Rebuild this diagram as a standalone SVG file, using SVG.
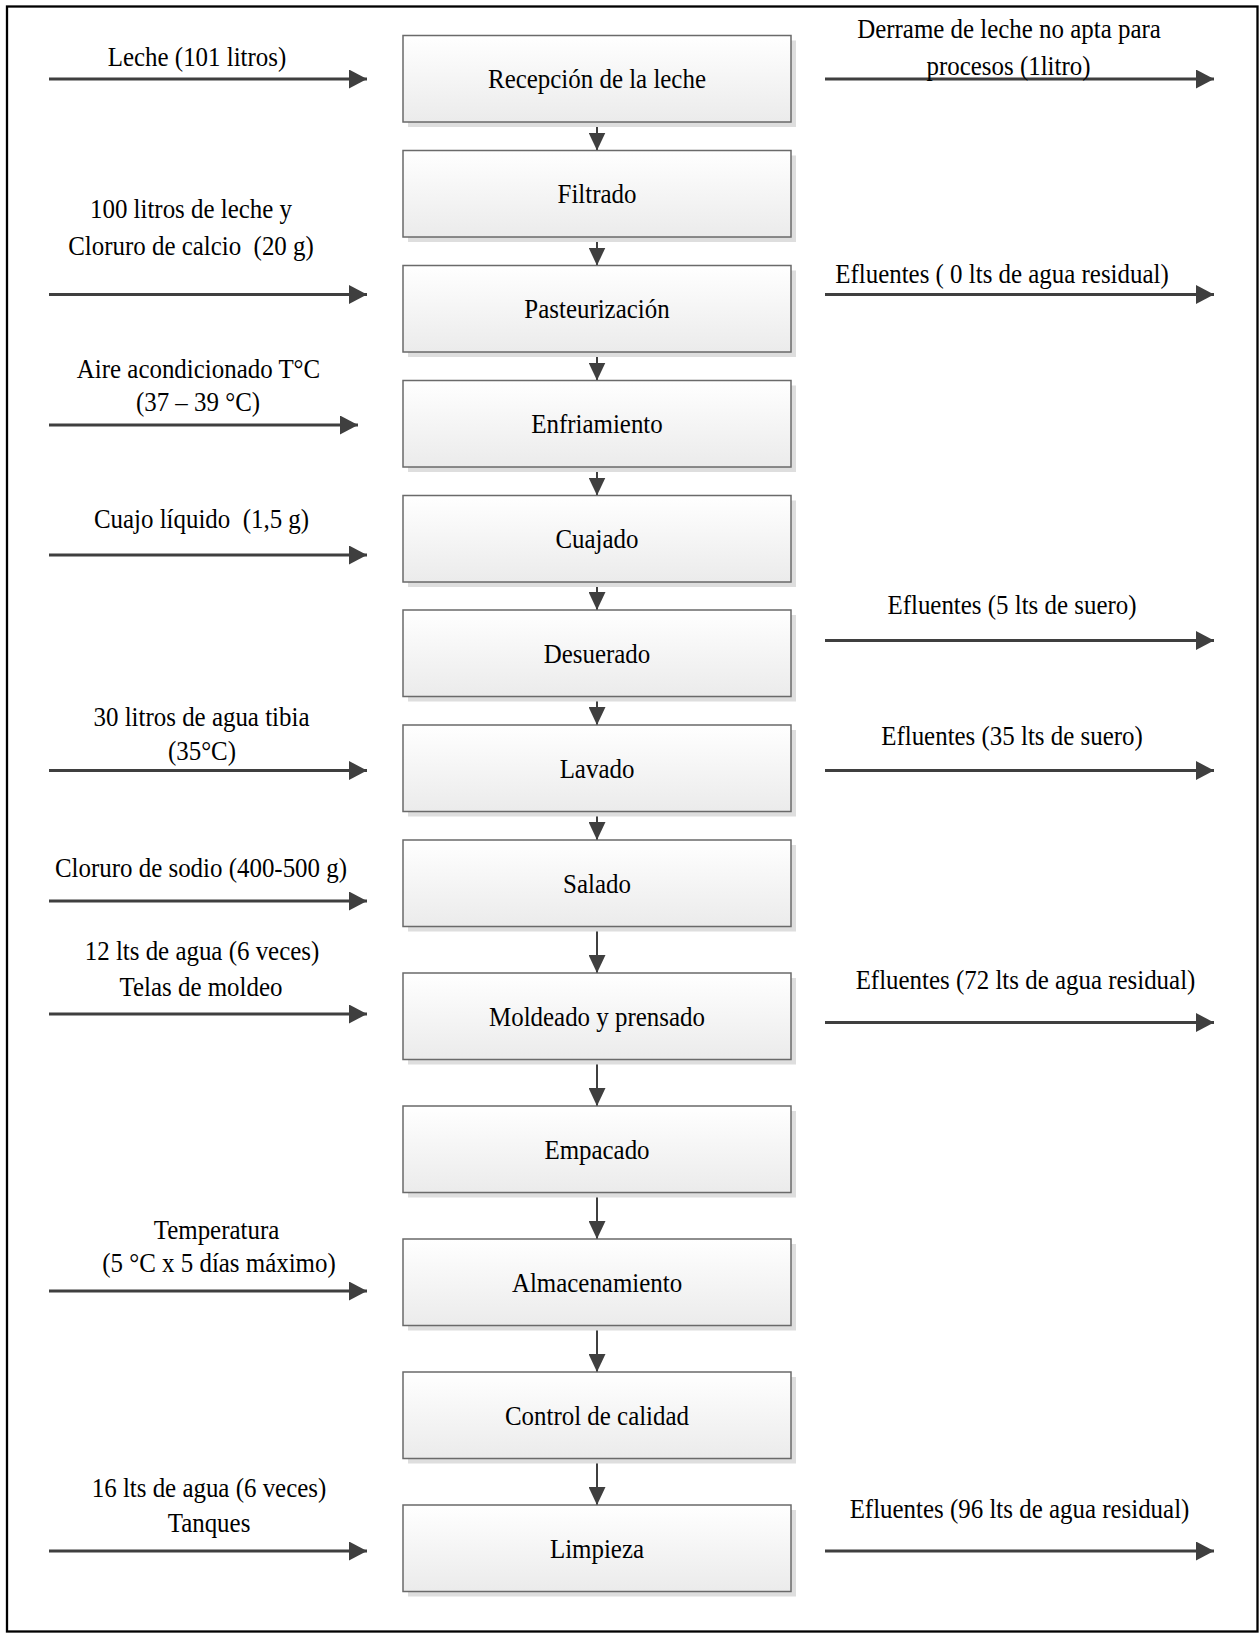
<svg xmlns="http://www.w3.org/2000/svg" width="1260" height="1633" viewBox="0 0 1260 1633">
<defs>
<linearGradient id="bg" x1="0" y1="0" x2="0" y2="1">
<stop offset="0" stop-color="#ffffff"/>
<stop offset="1" stop-color="#ebebeb"/>
</linearGradient>
<marker id="ah" markerWidth="18" markerHeight="19" refX="18" refY="9.5" orient="auto" markerUnits="userSpaceOnUse">
<path d="M0,0 L18,9.5 L0,19 z" fill="#3f3f3f"/>
</marker>
<marker id="av" markerWidth="18" markerHeight="17" refX="18" refY="8.5" orient="auto" markerUnits="userSpaceOnUse">
<path d="M0,0 L18,8.5 L0,17 z" fill="#3f3f3f"/>
</marker>
<style>
.sh{fill:#dedede}
.bx{fill:url(#bg);stroke:#6a6a6a;stroke-width:1.5}
.t{font-family:"Liberation Serif","Times New Roman",serif;font-size:28px;fill:#000;text-anchor:middle;white-space:pre}
.ha{stroke:#3f3f3f;stroke-width:3;fill:none;marker-end:url(#ah)}
.va{stroke:#3f3f3f;stroke-width:2;fill:none;marker-end:url(#av)}
</style>
</defs>
<rect x="0" y="0" width="1260" height="1633" fill="#ffffff"/>
<rect x="7" y="6.5" width="1250.5" height="1625" fill="none" stroke="#000" stroke-width="2.3"/>

<g id="connectors">
<line class="va" x1="597" y1="122" x2="597" y2="150.5"/>
<line class="va" x1="597" y1="237" x2="597" y2="265.5"/>
<line class="va" x1="597" y1="352" x2="597" y2="380.5"/>
<line class="va" x1="597" y1="467" x2="597" y2="495.5"/>
<line class="va" x1="597" y1="582" x2="597" y2="610"/>
<line class="va" x1="597" y1="696.5" x2="597" y2="725"/>
<line class="va" x1="597" y1="811.5" x2="597" y2="840"/>
<line class="va" x1="597" y1="926.5" x2="597" y2="973"/>
<line class="va" x1="597" y1="1059.5" x2="597" y2="1106"/>
<line class="va" x1="597" y1="1192.5" x2="597" y2="1239"/>
<line class="va" x1="597" y1="1325.5" x2="597" y2="1372"/>
<line class="va" x1="597" y1="1458.5" x2="597" y2="1505"/>

<line class="ha" x1="49" y1="79" x2="367" y2="79"/>
<line class="ha" x1="49" y1="294.5" x2="367" y2="294.5"/>
<line class="ha" x1="49" y1="425" x2="358" y2="425"/>
<line class="ha" x1="49" y1="555" x2="367" y2="555"/>
<line class="ha" x1="49" y1="770.5" x2="367" y2="770.5"/>
<line class="ha" x1="49" y1="901" x2="367" y2="901"/>
<line class="ha" x1="49" y1="1014" x2="367" y2="1014"/>
<line class="ha" x1="49" y1="1291" x2="367" y2="1291"/>
<line class="ha" x1="49" y1="1551" x2="367" y2="1551"/>

<line class="ha" x1="825" y1="79" x2="1214" y2="79"/>
<line class="ha" x1="825" y1="294.5" x2="1214" y2="294.5"/>
<line class="ha" x1="825" y1="640.5" x2="1214" y2="640.5"/>
<line class="ha" x1="825" y1="770.5" x2="1214" y2="770.5"/>
<line class="ha" x1="825" y1="1022.5" x2="1214" y2="1022.5"/>
<line class="ha" x1="825" y1="1551" x2="1214" y2="1551"/>
</g>

<g id="n1"><rect class="sh" x="408" y="40.5" width="388" height="86.5"/><rect class="bx" x="403" y="35.5" width="388" height="86.5"/><text class="t" transform="translate(597,88) scale(0.89,1)">Recepción de la leche</text></g>
<g id="n2"><rect class="sh" x="408" y="155.5" width="388" height="86.5"/><rect class="bx" x="403" y="150.5" width="388" height="86.5"/><text class="t" transform="translate(597,203) scale(0.89,1)">Filtrado</text></g>
<g id="n3"><rect class="sh" x="408" y="270.5" width="388" height="86.5"/><rect class="bx" x="403" y="265.5" width="388" height="86.5"/><text class="t" transform="translate(597,318) scale(0.89,1)">Pasteurización</text></g>
<g id="n4"><rect class="sh" x="408" y="385.5" width="388" height="86.5"/><rect class="bx" x="403" y="380.5" width="388" height="86.5"/><text class="t" transform="translate(597,433) scale(0.89,1)">Enfriamiento</text></g>
<g id="n5"><rect class="sh" x="408" y="500.5" width="388" height="86.5"/><rect class="bx" x="403" y="495.5" width="388" height="86.5"/><text class="t" transform="translate(597,548) scale(0.89,1)">Cuajado</text></g>
<g id="n6"><rect class="sh" x="408" y="615" width="388" height="86.5"/><rect class="bx" x="403" y="610" width="388" height="86.5"/><text class="t" transform="translate(597,662.5) scale(0.89,1)">Desuerado</text></g>
<g id="n7"><rect class="sh" x="408" y="730" width="388" height="86.5"/><rect class="bx" x="403" y="725" width="388" height="86.5"/><text class="t" transform="translate(597,777.5) scale(0.89,1)">Lavado</text></g>
<g id="n8"><rect class="sh" x="408" y="845" width="388" height="86.5"/><rect class="bx" x="403" y="840" width="388" height="86.5"/><text class="t" transform="translate(597,892.5) scale(0.89,1)">Salado</text></g>
<g id="n9"><rect class="sh" x="408" y="978" width="388" height="86.5"/><rect class="bx" x="403" y="973" width="388" height="86.5"/><text class="t" transform="translate(597,1025.5) scale(0.89,1)">Moldeado y prensado</text></g>
<g id="n10"><rect class="sh" x="408" y="1111" width="388" height="86.5"/><rect class="bx" x="403" y="1106" width="388" height="86.5"/><text class="t" transform="translate(597,1158.5) scale(0.89,1)">Empacado</text></g>
<g id="n11"><rect class="sh" x="408" y="1244" width="388" height="86.5"/><rect class="bx" x="403" y="1239" width="388" height="86.5"/><text class="t" transform="translate(597,1291.5) scale(0.89,1)">Almacenamiento</text></g>
<g id="n12"><rect class="sh" x="408" y="1377" width="388" height="86.5"/><rect class="bx" x="403" y="1372" width="388" height="86.5"/><text class="t" transform="translate(597,1424.5) scale(0.89,1)">Control de calidad</text></g>
<g id="n13"><rect class="sh" x="408" y="1510" width="388" height="86.5"/><rect class="bx" x="403" y="1505" width="388" height="86.5"/><text class="t" transform="translate(597,1557.5) scale(0.89,1)">Limpieza</text></g>

<g id="labels">
<text class="t" transform="translate(197,66) scale(0.89,1)">Leche (101 litros)</text>
<text class="t" transform="translate(191,218) scale(0.89,1)">100 litros de leche y</text>
<text class="t" transform="translate(191,255) scale(0.89,1)">Cloruro de calcio  (20 g)</text>
<text class="t" transform="translate(198.5,378) scale(0.89,1)">Aire acondicionado T°C</text>
<text class="t" transform="translate(198,411) scale(0.89,1)">(37 – 39 °C)</text>
<text class="t" transform="translate(201.5,528) scale(0.89,1)">Cuajo líquido  (1,5 g)</text>
<text class="t" transform="translate(201.5,726) scale(0.89,1)">30 litros de agua tibia</text>
<text class="t" transform="translate(202,760) scale(0.89,1)">(35°C)</text>
<text class="t" transform="translate(201,877) scale(0.89,1)">Cloruro de sodio (400-500 g)</text>
<text class="t" transform="translate(202,960) scale(0.89,1)">12 lts de agua (6 veces)</text>
<text class="t" transform="translate(201,996) scale(0.89,1)">Telas de moldeo</text>
<text class="t" transform="translate(216.5,1239) scale(0.89,1)">Temperatura</text>
<text class="t" transform="translate(219,1272) scale(0.89,1)">(5 °C x 5 días máximo)</text>
<text class="t" transform="translate(209,1497) scale(0.89,1)">16 lts de agua (6 veces)</text>
<text class="t" transform="translate(209,1532) scale(0.89,1)">Tanques</text>

<text class="t" transform="translate(1009,38) scale(0.89,1)">Derrame de leche no apta para</text>
<text class="t" transform="translate(1008.5,75) scale(0.89,1)">procesos (1litro)</text>
<text class="t" transform="translate(1002,283) scale(0.89,1)">Efluentes ( 0 lts de agua residual)</text>
<text class="t" transform="translate(1012,614) scale(0.89,1)">Efluentes (5 lts de suero)</text>
<text class="t" transform="translate(1012,745) scale(0.89,1)">Efluentes (35 lts de suero)</text>
<text class="t" transform="translate(1025.5,989) scale(0.89,1)">Efluentes (72 lts de agua residual)</text>
<text class="t" transform="translate(1019.5,1518) scale(0.89,1)">Efluentes (96 lts de agua residual)</text>
</g>
</svg>
